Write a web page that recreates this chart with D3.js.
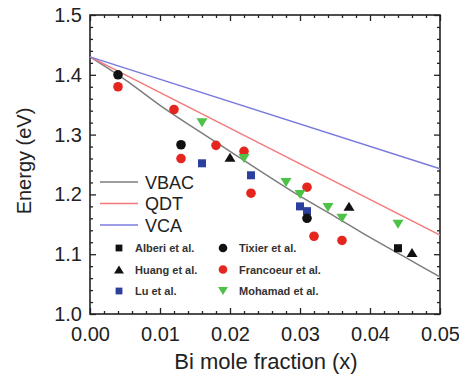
<!DOCTYPE html>
<html>
<head>
<meta charset="utf-8">
<script src="https://cdn.jsdelivr.net/npm/d3@7"></script>
<style>
  html, body { margin: 0; padding: 0; background: #fff; }
  svg { display: block; }
</style>
</head>
<body>
<svg id="chart" width="459" height="377"></svg>
<script>
// Model curves: band gap vs Bi mole fraction
const curveX = [0, 0.005, 0.01, 0.015, 0.02, 0.025, 0.03, 0.035, 0.04, 0.045, 0.05];
const vbacY  = [1.43, 1.392, 1.349, 1.310, 1.272, 1.234, 1.197, 1.163, 1.128, 1.095, 1.062];
const qdtX   = [0, 0.05];
const qdtY   = [1.43, 1.132];
const vcaX   = [0, 0.05];
const vcaY   = [1.43, 1.243];

// Experimental data
const alberiX = [0.044];
const alberiY = [1.11];
const huangX = [0.020, 0.037, 0.046];
const huangY = [1.262, 1.18, 1.103];
const luX = [0.016, 0.023, 0.030, 0.031];
const luY = [1.252, 1.232, 1.18, 1.172];
const tixierX = [0.004, 0.013, 0.031];
const tixierY = [1.40, 1.283, 1.16];
const francoeurX = [0.004, 0.012, 0.013, 0.018, 0.022, 0.023, 0.031, 0.032, 0.036];
const francoeurY = [1.38, 1.342, 1.26, 1.282, 1.272, 1.202, 1.212, 1.13, 1.123];
const mohamadX = [0.016, 0.022, 0.028, 0.030, 0.034, 0.036, 0.044];
const mohamadY = [1.32, 1.26, 1.22, 1.20, 1.178, 1.16, 1.15];

const xMajor = [0, 0.01, 0.02, 0.03, 0.04, 0.05];
const yMajor = [1.0, 1.1, 1.2, 1.3, 1.4, 1.5];

const svg = d3.select("#chart");
const plotLeft = 90, plotRight = 440, plotTop = 15, plotBottom = 314;

const x = d3.scaleLinear().domain([0, 0.05]).range([plotLeft, plotRight]);
const y = d3.scaleLinear().domain([1.0, 1.5]).range([plotBottom, plotTop]);

const xMinor = d3.range(0, 0.0501, 0.002).map(v => +v.toFixed(3)).filter(v => !xMajor.some(m => Math.abs(m - v) < 1e-9));
const yMinor = d3.range(1.0, 1.5001, 0.02).map(v => +v.toFixed(2)).filter(v => !yMajor.some(m => Math.abs(m - v) < 1e-9));

const axisColor = "#222";
const tickFont = "'Liberation Sans', Arial, sans-serif";

function styleAxis(g) {
  g.select(".domain").remove();
  g.selectAll(".tick line").attr("stroke", axisColor).attr("stroke-width", 1.3);
  g.selectAll(".tick text").attr("fill", "#222").style("font-family", tickFont).style("font-size", "20px");
}

// bottom axis with labels
svg.append("g").attr("transform", `translate(0,${plotBottom})`)
  .call(d3.axisBottom(x).tickValues(xMajor).tickSize(-6).tickPadding(13).tickFormat(d3.format(".2f")))
  .call(styleAxis);
svg.append("g").attr("transform", `translate(0,${plotBottom})`)
  .call(d3.axisBottom(x).tickValues(xMinor).tickSize(-3).tickFormat(""))
  .call(styleAxis);
// top axis (mirrored ticks)
svg.append("g").attr("transform", `translate(0,${plotTop})`)
  .call(d3.axisTop(x).tickValues(xMajor).tickSize(-6).tickFormat(""))
  .call(styleAxis);
svg.append("g").attr("transform", `translate(0,${plotTop})`)
  .call(d3.axisTop(x).tickValues(xMinor).tickSize(-3).tickFormat(""))
  .call(styleAxis);
// left axis with labels
svg.append("g").attr("transform", `translate(${plotLeft},0)`)
  .call(d3.axisLeft(y).tickValues(yMajor).tickSize(-6).tickPadding(8).tickFormat(d3.format(".1f")))
  .call(styleAxis);
svg.append("g").attr("transform", `translate(${plotLeft},0)`)
  .call(d3.axisLeft(y).tickValues(yMinor).tickSize(-3).tickFormat(""))
  .call(styleAxis);
// right axis (mirrored ticks)
svg.append("g").attr("transform", `translate(${plotRight},0)`)
  .call(d3.axisRight(y).tickValues(yMajor).tickSize(-6).tickFormat(""))
  .call(styleAxis);
svg.append("g").attr("transform", `translate(${plotRight},0)`)
  .call(d3.axisRight(y).tickValues(yMinor).tickSize(-3).tickFormat(""))
  .call(styleAxis);

// frame
svg.append("rect")
  .attr("x", plotLeft).attr("y", plotTop)
  .attr("width", plotRight - plotLeft).attr("height", plotBottom - plotTop)
  .attr("fill", "none").attr("stroke", axisColor).attr("stroke-width", 1.6);

// axis titles
svg.append("text")
  .attr("x", 266).attr("y", 369)
  .attr("text-anchor", "middle")
  .style("font-family", tickFont).style("font-size", "22px").attr("fill", "#222")
  .text("Bi mole fraction (x)");
svg.append("text")
  .attr("transform", `translate(31,161) rotate(-90)`)
  .attr("text-anchor", "middle")
  .style("font-family", tickFont).style("font-size", "20px").attr("fill", "#222")
  .text("Energy (eV)");

// model curves
const lineGen = d3.line().x(d => x(d[0])).y(d => y(d[1]));
const models = [
  { name: "VBAC", xs: curveX, ys: vbacY, color: "#7d7d7d", curve: d3.curveMonotoneX },
  { name: "QDT",  xs: qdtX,   ys: qdtY,  color: "#f37a7a", curve: d3.curveLinear },
  { name: "VCA",  xs: vcaX,   ys: vcaY,  color: "#7b7be0", curve: d3.curveLinear }
];
const plot = svg.append("g");
models.forEach(m => {
  plot.append("path")
    .datum(m.xs.map((v, i) => [v, m.ys[i]]))
    .attr("fill", "none").attr("stroke", m.color).attr("stroke-width", 1.5)
    .attr("d", lineGen.curve(m.curve));
});

// markers
const sets = [
  { name: "Alberi et al.",    xs: alberiX,    ys: alberiY,    shape: "square",   color: "#111" },
  { name: "Huang et al.",     xs: huangX,     ys: huangY,     shape: "triUp",    color: "#111" },
  { name: "Lu et al.",        xs: luX,        ys: luY,        shape: "square",   color: "#2b3f9e" },
  { name: "Tixier et al.",    xs: tixierX,    ys: tixierY,    shape: "circle",   color: "#111" },
  { name: "Francoeur et al.", xs: francoeurX, ys: francoeurY, shape: "circle",   color: "#e5261f" },
  { name: "Mohamad et al.",   xs: mohamadX,   ys: mohamadY,   shape: "triDown",  color: "#4cc246" }
];

function drawMarker(g, shape, cx, cy, color, scale) {
  const s = scale || 1;
  if (shape === "circle") {
    g.append("circle").attr("cx", cx).attr("cy", cy).attr("r", 4.8 * s).attr("fill", color);
  } else if (shape === "square") {
    const h = 4 * s;
    g.append("rect").attr("x", cx - h).attr("y", cy - h).attr("width", 2 * h).attr("height", 2 * h).attr("fill", color);
  } else {
    const w = 5.5 * s, hgt = 9 * s;
    const pts = shape === "triUp"
      ? [[cx - w, cy + hgt / 2], [cx + w, cy + hgt / 2], [cx, cy - hgt / 2]]
      : [[cx - w, cy - hgt / 2], [cx + w, cy - hgt / 2], [cx, cy + hgt / 2]];
    g.append("path").attr("d", "M" + pts.map(p => p.join(",")).join("L") + "Z").attr("fill", color);
  }
}

sets.forEach(s => {
  s.xs.forEach((v, i) => drawMarker(plot, s.shape, x(v), y(s.ys[i]), s.color, 1));
});

// legend: model lines
const legend = svg.append("g");
models.forEach((m, i) => {
  const ly = 182 + i * 21.5;
  legend.append("line").attr("x1", 100).attr("x2", 138).attr("y1", ly).attr("y2", ly)
    .attr("stroke", m.color).attr("stroke-width", 1.5);
  legend.append("text").attr("x", 145).attr("y", ly + 6.5)
    .style("font-family", tickFont).style("font-size", "18px").attr("fill", "#222")
    .text(m.name);
});
// legend: data sets (two columns)
sets.forEach((s, i) => {
  const col = Math.floor(i / 3), row = i % 3;
  const mx = col === 0 ? 119 : 223;
  const my = 248 + row * 21.5;
  drawMarker(legend, s.shape, mx, my, s.color, s.shape === "square" ? 0.85 : 0.9);
  legend.append("text").attr("x", mx + 16).attr("y", my + 4)
    .style("font-family", tickFont).style("font-size", "11px").style("font-weight", "bold").attr("fill", "#333")
    .text(s.name);
});
</script>
</body>
</html>
